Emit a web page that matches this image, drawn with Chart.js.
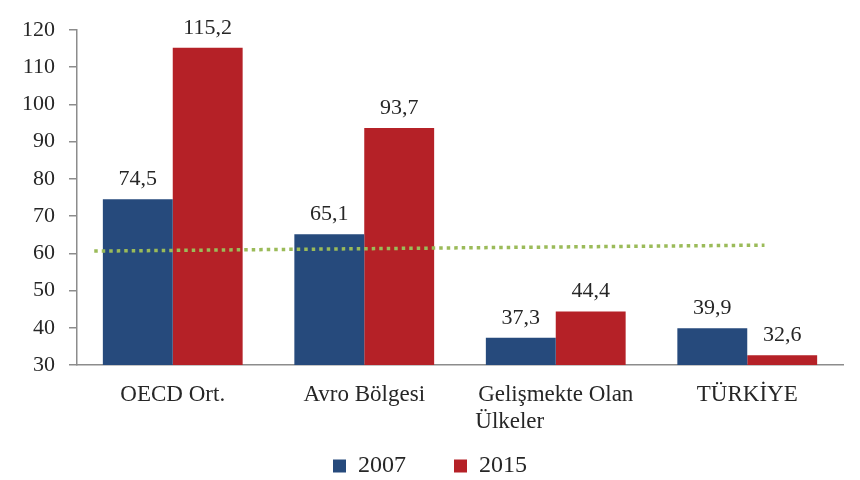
<!DOCTYPE html>
<html><head><meta charset="utf-8">
<script src="https://cdn.jsdelivr.net/npm/chart.js@4/dist/chart.umd.min.js"></script>
<style>html,body{margin:0;padding:0;background:#fff}#w{width:860px;height:480px}</style>
</head><body><div id="w"><canvas id="c"></canvas></div>
<script>
const categories = ['OECD Ort.', 'Avro Bölgesi', ['Gelişmekte Olan', 'Ülkeler                '], 'TÜRKİYE'];
const seriesNames = ['2007', '2015'];
const values2007 = [74.5, 65.1, 37.3, 39.9];
const values2015 = [115.2, 93.7, 44.4, 32.6];
// reference (dotted) line: positions in category-index units and values
const refLineX = [-0.41, 3.09];
const refLineY = [60.6, 62.2];
const yTicks = {min: 30, max: 120, step: 10};

const FONT = "'Liberation Serif', 'Times New Roman', serif";
const TXT = '#262626';

const overlayPlugin = {
  id: 'overlay',
  afterDatasetsDraw(chart) {
    const ctx = chart.ctx;
    const xs = chart.scales.x, ys = chart.scales.y;
    // dotted reference line through the chart's scales
    ctx.save();
    ctx.strokeStyle = '#9BBB59';
    ctx.lineWidth = 3.5;
    ctx.lineCap = 'butt';
    ctx.setLineDash([3.5, 4]);
    ctx.beginPath();
    refLineX.forEach((v, i) => {
      const px = xs.getPixelForValue(v), py = ys.getPixelForValue(refLineY[i]);
      if (i === 0) ctx.moveTo(px, py); else ctx.lineTo(px, py);
    });
    ctx.stroke();
    ctx.restore();
    // value labels
    ctx.save();
    ctx.font = '22px ' + FONT;
    ctx.fillStyle = TXT;
    ctx.textAlign = 'center';
    ctx.textBaseline = 'alphabetic';
    chart.data.datasets.forEach((ds, di) => {
      const meta = chart.getDatasetMeta(di);
      meta.data.forEach((bar, i) => {
        const v = ds.data[i];
        ctx.fillText(v.toFixed(1).replace('.', ','), bar.x, bar.y - 14);
      });
    });
    ctx.restore();
  }
};

new Chart(document.getElementById('c'), {
  type: 'bar',
  data: {
    labels: categories,
    datasets: [
      {label: seriesNames[0], data: values2007, backgroundColor: '#264A7C'},
      {label: seriesNames[1], data: values2015, backgroundColor: '#B52127'}
    ]
  },
  options: {
    responsive: true,
    maintainAspectRatio: false,
    animation: false,
    layout: {padding: {left: 0, right: 0, top: 30, bottom: -8}},
    categoryPercentage: 0.73,
    barPercentage: 1.0,
    plugins: {
      legend: {
        position: 'bottom',
        labels: {
          boxWidth: 13, boxHeight: 13, padding: 18,
          font: {family: FONT, size: 24}, color: TXT,
          generateLabels(chart) {
            const items = Chart.defaults.plugins.legend.labels.generateLabels(chart);
            return items.map((it, i) => i < items.length - 1 ? Object.assign(it, {text: it.text + '     '}) : it);
          }
        }
      },
      tooltip: {enabled: false}
    },
    scales: {
      x: {
        offset: true,
        grid: {display: false, drawTicks: false},
        border: {color: '#8C8C8C', width: 1.5},
        ticks: {font: {family: FONT, size: 23, lineHeight: 1.15}, color: TXT, padding: 17, maxRotation: 0, autoSkip: false},
        afterFit(scale) { scale.height = 71; }
      },
      y: {
        min: yTicks.min, max: yTicks.max,
        ticks: {stepSize: yTicks.step, font: {family: FONT, size: 22}, color: TXT, padding: 14},
        grid: {display: true, drawOnChartArea: false, tickLength: 8, color: '#8C8C8C', lineWidth: 1.5},
        border: {color: '#8C8C8C', width: 1.5},
        afterFit(scale) { scale.width = 77; }
      },
      yRight: {
        position: 'right',
        min: yTicks.min, max: yTicks.max,
        ticks: {display: false},
        grid: {display: false, drawTicks: false},
        border: {display: false},
        afterFit(scale) { scale.width = 17; }
      }
    }
  },
  plugins: [overlayPlugin]
});
</script>
</body></html>
